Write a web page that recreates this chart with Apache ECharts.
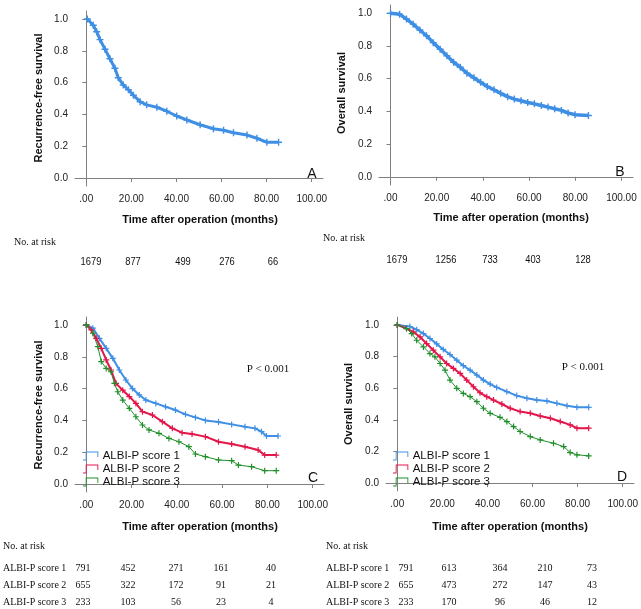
<!DOCTYPE html>
<html>
<head>
<meta charset="utf-8">
<script src="https://cdn.jsdelivr.net/npm/echarts@6/dist/echarts.min.js"></script>
<style>
html,body{margin:0;padding:0;background:#fff;}
#chart{width:641px;height:609px;}
</style>
</head>
<body>
<div id="chart"></div>
<script>
// ---------- DATA ----------
const xTickValues = [0, 20, 40, 60, 80, 100];
const xTickLabels = ['.00', '20.00', '40.00', '60.00', '80.00', '100.00'];
const yTickValues = [0, 0.2, 0.4, 0.6, 0.8, 1.0];
const yTickLabels = ['0.0', '0.2', '0.4', '0.6', '0.8', '1.0'];

// Panel A: recurrence-free survival, all patients [months, survival]
const rfsAll = [[0.5,1.0],[3.1,0.96],[4.6,0.92],[6.1,0.87],[8.3,0.81],[10.5,0.75],[12.7,0.69],[14.2,0.63],[16.4,0.585],[18.7,0.555],[20.9,0.52],[23.9,0.48],[26.8,0.46],[31.3,0.445],[35.7,0.42],[40.1,0.39],[44.6,0.365],[50.5,0.335],[56.4,0.31],[60.9,0.30],[65.3,0.285],[71.3,0.27],[75.7,0.25],[80.1,0.225],[85.3,0.225]];
// Panel B: overall survival, all patients
const osAll = [[0,1.0],[3.9,0.994],[6.9,0.964],[9.8,0.933],[12.7,0.897],[15.6,0.862],[18.5,0.82],[21.5,0.78],[24.4,0.74],[27.3,0.70],[30.2,0.67],[33.1,0.633],[36.1,0.605],[39,0.578],[41.9,0.552],[44.8,0.532],[47.7,0.51],[50.7,0.49],[53.6,0.475],[56.5,0.465],[59.4,0.454],[62.3,0.446],[65.3,0.436],[68.2,0.426],[71.1,0.416],[74,0.406],[76.9,0.39],[79.9,0.38],[85.7,0.375]];
// Panel C: RFS by ALBI-P score
const rfsScore1 = [[0,1.0],[2.9,0.98],[5.8,0.916],[8.8,0.853],[11.7,0.79],[14.6,0.717],[17.5,0.654],[20.4,0.60],[23.4,0.56],[26.3,0.528],[30.7,0.507],[35,0.486],[39.4,0.465],[43.8,0.438],[48.2,0.419],[52.6,0.40],[58.4,0.39],[64.2,0.375],[70.1,0.36],[74.5,0.35],[77.4,0.329],[79.6,0.302],[84.7,0.302]];
const rfsScore2 = [[0,1.0],[2.2,0.969],[4.4,0.916],[6.6,0.853],[8.8,0.78],[10.9,0.717],[13.1,0.633],[16.1,0.59],[19,0.55],[21.9,0.507],[24.8,0.455],[29.2,0.434],[33.6,0.392],[38,0.35],[42.3,0.323],[46.7,0.314],[52.6,0.298],[58.4,0.266],[64.2,0.252],[70.1,0.235],[75.9,0.214],[78.8,0.182],[83.9,0.182]];
const rfsScore3 = [[0,1.0],[2.9,0.948],[5.1,0.864],[6.6,0.77],[8.8,0.727],[10.9,0.706],[12.4,0.633],[13.9,0.58],[16.1,0.528],[19,0.476],[21.9,0.423],[24.8,0.371],[27.7,0.34],[32.1,0.319],[36.5,0.287],[40.9,0.266],[45.3,0.235],[48.2,0.189],[52.6,0.172],[58.4,0.151],[64.2,0.147],[67.2,0.119],[73,0.109],[78.8,0.084],[83.9,0.084]];
// Panel D: OS by ALBI-P score
const osScore1 = [[0,1.0],[5.6,0.99],[8.6,0.97],[11.6,0.945],[14.5,0.914],[17.5,0.88],[20.4,0.845],[23.4,0.813],[26.4,0.777],[29.3,0.742],[32.3,0.714],[35.3,0.683],[38.2,0.651],[41.2,0.626],[44.1,0.605],[48.6,0.578],[53,0.553],[57.5,0.536],[61.9,0.525],[66.4,0.519],[70.8,0.504],[75.3,0.489],[79.7,0.479],[84.9,0.479]];
const osScore2 = [[0,1.0],[4.1,0.977],[7.1,0.956],[10.1,0.924],[13,0.882],[16,0.84],[19,0.798],[21.9,0.756],[24.9,0.725],[27.9,0.693],[30.8,0.651],[33.8,0.609],[36.7,0.571],[39.7,0.546],[42.7,0.525],[46.4,0.50],[50.1,0.473],[54.5,0.452],[59,0.441],[63.4,0.424],[67.9,0.41],[72.3,0.389],[76.7,0.368],[79.7,0.347],[84.9,0.347]];
const osScore3 = [[0,1.0],[4.1,0.977],[6.4,0.945],[8.6,0.903],[11.6,0.861],[14.5,0.819],[16.7,0.798],[19,0.756],[21.2,0.714],[23.4,0.651],[26.4,0.599],[29.3,0.567],[32.3,0.546],[35.3,0.515],[38.2,0.473],[41.2,0.441],[45.6,0.416],[48.6,0.389],[51.6,0.357],[54.5,0.326],[59,0.294],[63.4,0.273],[69.3,0.252],[73.8,0.231],[76.7,0.193],[79.7,0.179],[84.9,0.172]];

const groupNames = ['ALBI-P score 1', 'ALBI-P score 2', 'ALBI-P score 3'];
const riskA = ['1679', '877', '499', '276', '66'];
const riskB = ['1679', '1256', '733', '403', '128'];
const riskC1 = ['791', '452', '271', '161', '40'];
const riskC2 = ['655', '322', '172', '91', '21'];
const riskC3 = ['233', '103', '56', '23', '4'];
const riskD1 = ['791', '613', '364', '210', '73'];
const riskD2 = ['655', '473', '272', '147', '43'];
const riskD3 = ['233', '170', '96', '46', '12'];

// ---------- STYLE ----------
const BLUE = '#3f8fe4', RED = '#e3164b', GREEN = '#1f8f2a';
const PLUS = 'path://M4,0H6V4H10V6H6V10H4V6H0V4H4Z';
const SANS = 'Liberation Sans, Arial, sans-serif';
const SERIF = 'Liberation Serif, Times New Roman, serif';

const grids = [
  {left: 75, top: 11, width: 248, height: 175},
  {left: 379, top: 5, width: 254, height: 180},
  {left: 75, top: 317, width: 249, height: 175},
  {left: 386, top: 317, width: 249, height: 174}
];

function xAx(i) {
  return {
    type: 'value', gridIndex: i, min: -5, max: 105,
    axisLine: {show: true, lineStyle: {color: '#808080', width: 1}},
    axisTick: {show: true, length: 4, customValues: xTickValues, lineStyle: {color: '#808080'}},
    axisLabel: {customValues: xTickValues, formatter: v => xTickLabels[xTickValues.indexOf(v)],
      color: '#222', fontFamily: SANS, fontSize: 10, margin: 8},
    splitLine: {show: false}
  };
}
function yAx(i) {
  return {
    type: 'value', gridIndex: i, min: -0.05, max: 1.05,
    axisLine: {show: true, lineStyle: {color: '#808080', width: 1}},
    axisTick: {show: true, length: 4, customValues: yTickValues, lineStyle: {color: '#808080'}},
    axisLabel: {customValues: yTickValues, formatter: v => yTickLabels[yTickValues.indexOf(Math.round(v*10)/10)],
      color: '#222', fontFamily: SANS, fontSize: 10, margin: 7},
    splitLine: {show: false}
  };
}
function line(name, data, idx, color, width, symSize) {
  return {
    name: name, type: 'line', xAxisIndex: idx, yAxisIndex: idx, data: data,
    symbol: PLUS, symbolSize: symSize, showSymbol: true, showAllSymbol: true,
    itemStyle: {color: color}, lineStyle: {color: color, width: width},
    animation: false, silent: true
  };
}

const graphic = [];
function txt(x, y, s, font, size, weight, align, rot, sx) {
  graphic.push({type: 'text', x: x, y: y, rotation: rot || 0, scaleX: sx || 1,
    style: {text: s, fontFamily: font, fontSize: size, fontWeight: weight || 'normal', fill: '#111',
      textAlign: align || 'left', textVerticalAlign: 'middle'}});
}
// axis titles
txt(200, 220, 'Time after operation (months)', SANS, 11, 'bold', 'center');
txt(511, 218, 'Time after operation (months)', SANS, 11, 'bold', 'center');
txt(200, 527, 'Time after operation (months)', SANS, 11, 'bold', 'center');
txt(510, 527, 'Time after operation (months)', SANS, 11, 'bold', 'center');
txt(39, 98, 'Recurrence-free survival', SANS, 11, 'bold', 'center', Math.PI/2);
txt(342, 93, 'Overall survival', SANS, 11, 'bold', 'center', Math.PI/2);
txt(39, 405, 'Recurrence-free survival', SANS, 11, 'bold', 'center', Math.PI/2);
txt(349, 404, 'Overall survival', SANS, 11, 'bold', 'center', Math.PI/2);
// panel letters
txt(312, 174, 'A', SANS, 14, 'normal', 'center');
txt(620, 172, 'B', SANS, 14, 'normal', 'center');
txt(313, 478, 'C', SANS, 14, 'normal', 'center');
txt(622, 477, 'D', SANS, 14, 'normal', 'center');
// P values
txt(268, 369, 'P < 0.001', SERIF, 11, 'normal', 'center');
txt(583, 367, 'P < 0.001', SERIF, 11, 'normal', 'center');
// risk tables
txt(14, 242, 'No. at risk', SERIF, 10, 'normal', 'left');
const colA = [91, 133, 183, 227, 273];
riskA.forEach((v, i) => txt(colA[i], 262, v, SANS, 11, 'normal', 'center', 0, 0.85));
txt(323, 238, 'No. at risk', SERIF, 10, 'normal', 'left');
const colB = [397, 446, 490, 533, 583];
riskB.forEach((v, i) => txt(colB[i], 260, v, SANS, 11, 'normal', 'center', 0, 0.85));

txt(3, 546, 'No. at risk', SERIF, 10, 'normal', 'left');
const colC = [83, 128, 176, 221, 271];
const rowsY = [568, 585, 602];
[riskC1, riskC2, riskC3].forEach((row, r) => {
  txt(3, rowsY[r], groupNames[r], SERIF, 10, 'normal', 'left');
  row.forEach((v, i) => txt(colC[i], rowsY[r], v, SERIF, 10, 'normal', 'center'));
});
txt(326, 546, 'No. at risk', SERIF, 10, 'normal', 'left');
const colD = [406, 449, 500, 545, 592];
[riskD1, riskD2, riskD3].forEach((row, r) => {
  txt(326, rowsY[r], groupNames[r], SERIF, 10, 'normal', 'left');
  row.forEach((v, i) => txt(colD[i], rowsY[r], v, SERIF, 10, 'normal', 'center'));
});

const LEG_ICON = 'path://M0,9H3V0H17V6H16V1H4V10H0Z';
function legend(left) {
  return {
    left: left, top: 450, padding: 0, orient: 'vertical', itemGap: 1, itemWidth: 18, itemHeight: 9,
    data: groupNames.map(n => ({name: n, icon: LEG_ICON})),
    textStyle: {fontFamily: SANS, fontSize: 11.5, color: '#111', padding: [0,0,0,-2], lineHeight: 12},
    selectedMode: false
  };
}

const chart = echarts.init(document.getElementById('chart'), null, {renderer: 'canvas'});
chart.setOption({
  backgroundColor: '#fff',
  animation: false,
  grid: grids,
  xAxis: [xAx(0), xAx(1), xAx(2), xAx(3)],
  yAxis: [yAx(0), yAx(1), yAx(2), yAx(3)],
  legend: [legend(83), legend(393)],
  series: [
    line('RFS', rfsAll, 0, BLUE, 3, 7),
    line('OS', osAll, 1, BLUE, 3.5, 7),
    line(groupNames[0], rfsScore1, 2, BLUE, 2, 6),
    line(groupNames[1], rfsScore2, 2, RED, 2, 6),
    line(groupNames[2], rfsScore3, 2, GREEN, 1, 6),
    line(groupNames[0], osScore1, 3, BLUE, 2, 6),
    line(groupNames[1], osScore2, 3, RED, 2, 6),
    line(groupNames[2], osScore3, 3, GREEN, 1, 6)
  ],
  graphic: graphic
});
</script>
</body>
</html>
